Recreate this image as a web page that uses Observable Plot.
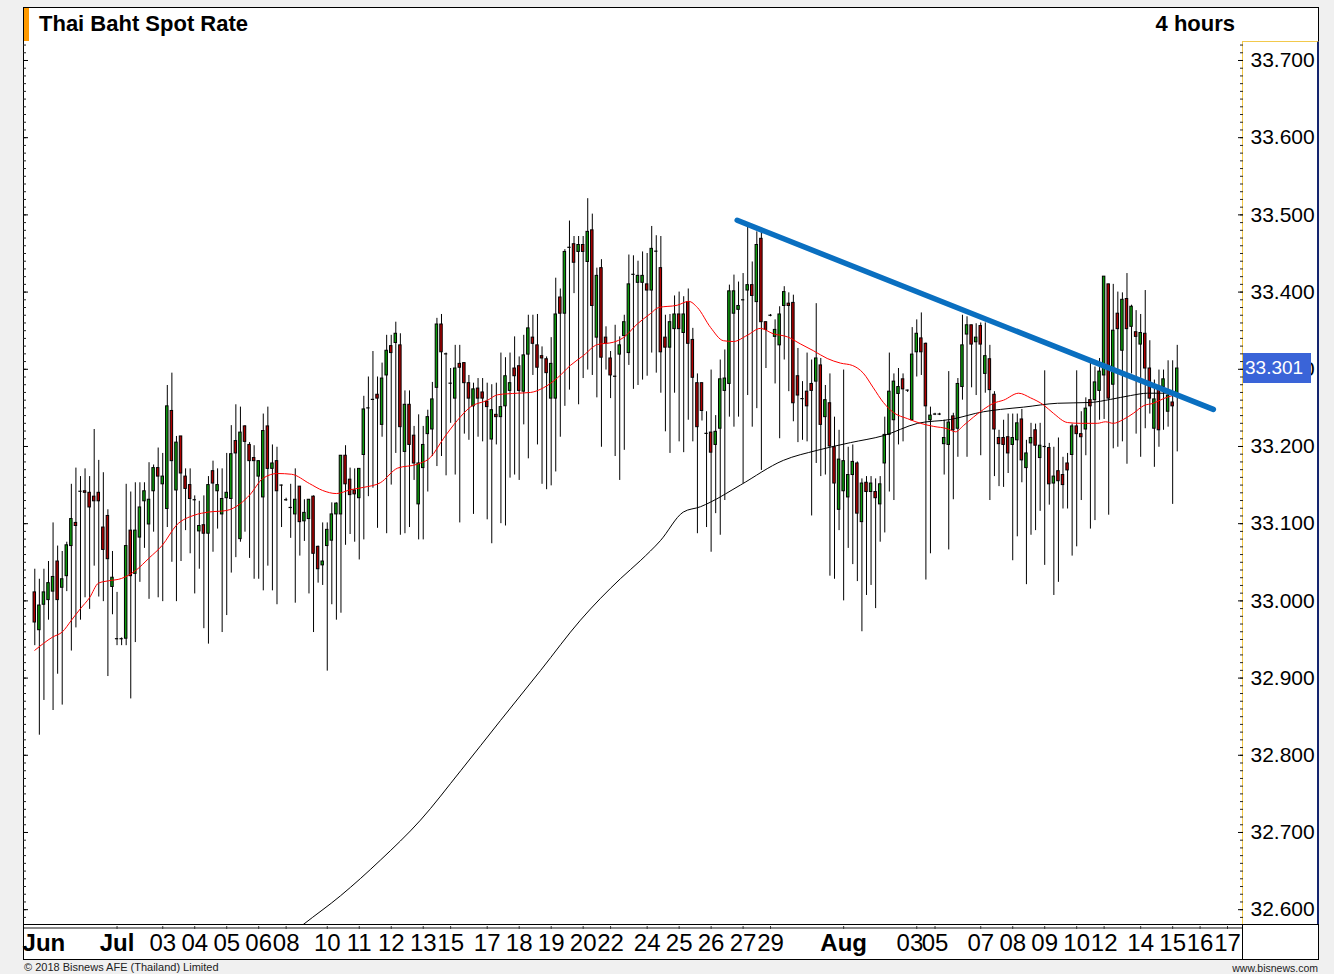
<!DOCTYPE html>
<html><head><meta charset="utf-8">
<script src="https://cdn.jsdelivr.net/npm/d3@7"></script>
<script src="https://cdn.jsdelivr.net/npm/@observablehq/plot@0.6"></script>
<style>
html,body{margin:0;padding:0;background:#f0f0f0;width:1334px;height:974px;overflow:hidden;font-family:"Liberation Sans",Arial,sans-serif;}
.abs{position:absolute;}
#frame{left:23px;top:7px;width:1296px;height:953px;box-sizing:border-box;border:1px solid #000;background:#fff;z-index:0;}
#orange{left:24px;top:8px;width:5px;height:33px;background:#ff9a00;z-index:1;}
#panel{left:1242px;top:41px;width:77px;height:884px;box-sizing:border-box;border-left:1px solid #f2c94c;border-top:1px solid #f2c94c;border-right:2px solid #14246e;z-index:1;}
#l1{left:23px;top:924px;width:1296px;height:1px;background:#000;z-index:1;}
#l2{left:24px;top:927px;width:1218px;height:2px;background:#8a8a8a;z-index:1;}
#l3{left:1242px;top:924px;width:1px;height:35px;background:#000;z-index:1;}
#chart{left:0;top:0;z-index:2;}
#title{left:39px;top:13px;font-size:22px;font-weight:bold;line-height:22px;color:#000;z-index:3;white-space:nowrap;}
#period{left:1120px;width:115px;text-align:right;top:13px;font-size:22px;font-weight:bold;line-height:22px;color:#000;z-index:3;}
#price{left:1243px;width:68px;height:30px;background:#3a64d8;color:#fff;font-size:19px;line-height:30px;padding-left:2px;box-sizing:border-box;z-index:3;}
#copy{left:24px;top:961px;font-size:11px;line-height:12px;color:#222;z-index:3;white-space:nowrap;}
#www{left:1200px;width:118px;text-align:right;top:962px;font-size:10.5px;line-height:12px;color:#222;z-index:3;}
</style></head><body>
<div id="frame" class="abs"></div>
<div id="orange" class="abs"></div>
<div id="panel" class="abs"></div>
<div id="l1" class="abs"></div>
<div id="l2" class="abs"></div>
<div id="l3" class="abs"></div>
<div id="chart" class="abs"></div>
<div id="title" class="abs">Thai Baht Spot Rate</div>
<div id="period" class="abs">4 hours</div>
<div id="price" class="abs"></div>
<div id="copy" class="abs">© 2018 Bisnews AFE (Thailand) Limited</div>
<div id="www" class="abs">www.bisnews.com</div>
<script>
// ---- Candle data (4-hour bars) ----
const open = [
33.011,32.962,32.995,33.001,33.012,33.051,33.017,33.032,33.071,33.101,
33.142,33.142,33.140,33.135,33.140,33.095,33.110,33.018,32.951,32.951,
32.951,33.091,33.035,33.082,33.129,33.099,33.142,33.172,33.151,33.119,
33.246,33.143,33.213,33.161,33.150,33.131,33.090,33.098,33.087,33.168,
33.142,33.112,33.133,33.132,33.207,33.080,33.226,33.202,33.185,33.161,
33.134,33.226,33.171,33.181,33.150,33.131,33.121,33.112,33.148,33.103,
33.106,33.135,33.070,33.046,33.071,33.078,33.112,33.112,33.188,33.157,
33.143,33.133,33.189,33.250,33.261,33.267,33.228,33.292,33.330,33.334,
33.331,33.193,33.254,33.214,33.125,33.172,33.216,33.222,33.276,33.358,
33.320,33.282,33.262,33.307,33.308,33.282,33.252,33.275,33.270,33.258,
33.209,33.241,33.238,33.252,33.272,33.301,33.304,33.271,33.319,33.341,
33.331,33.317,33.313,33.262,33.262,33.393,33.372,33.458,33.462,33.452,
33.461,33.439,33.480,33.341,33.431,33.341,33.314,33.291,33.319,33.343,
33.321,33.423,33.412,33.412,33.410,33.402,33.453,33.431,33.341,33.328,
33.352,33.371,33.347,33.387,33.338,33.282,33.282,33.217,33.218,33.202,
33.223,33.272,33.281,33.372,33.377,33.390,33.402,33.409,33.387,33.469,
33.361,33.370,33.342,33.331,33.382,33.385,33.386,33.291,33.262,33.271,
33.281,33.284,33.305,33.238,33.256,33.199,33.118,33.142,33.134,33.163,
33.178,33.102,33.153,33.141,33.141,33.125,33.178,33.215,33.234,33.268,
33.287,33.273,33.234,33.322,33.340,33.333,33.234,33.242,33.242,33.203,
33.202,33.239,33.223,33.277,33.345,33.357,33.335,33.356,33.294,33.313,
33.267,33.211,33.211,33.212,33.202,33.208,33.235,33.172,33.204,33.221,
33.185,33.200,33.198,33.152,33.168,33.163,33.178,33.189,33.226,33.216,
33.222,33.260,33.260,33.272,33.292,33.410,33.280,33.372,33.324,33.391,
33.355,33.348,33.332,33.346,33.301,33.223,33.278,33.277,33.245,33.257,
33.268];
const high = [
33.041,33.028,33.041,33.051,33.101,33.071,33.064,33.076,33.151,33.172,
33.161,33.171,33.161,33.222,33.182,33.166,33.118,33.064,33.011,32.952,
33.151,33.141,33.153,33.153,33.153,33.179,33.176,33.198,33.191,33.279,
33.295,33.213,33.213,33.171,33.171,33.136,33.129,33.136,33.161,33.181,
33.171,33.171,33.191,33.227,33.254,33.251,33.227,33.205,33.201,33.181,
33.242,33.251,33.202,33.199,33.150,33.133,33.151,33.171,33.148,33.131,
33.131,33.136,33.071,33.101,33.101,33.127,33.127,33.188,33.201,33.172,
33.171,33.171,33.265,33.290,33.323,33.290,33.308,33.344,33.344,33.361,
33.346,33.272,33.272,33.226,33.241,33.226,33.247,33.283,33.366,33.371,
33.321,33.301,33.331,33.331,33.308,33.292,33.282,33.288,33.288,33.282,
33.280,33.282,33.321,33.315,33.321,33.342,33.316,33.344,33.370,33.370,
33.371,33.329,33.316,33.341,33.418,33.404,33.455,33.492,33.472,33.472,
33.472,33.521,33.501,33.431,33.442,33.355,33.323,33.357,33.342,33.370,
33.448,33.447,33.440,33.452,33.450,33.485,33.473,33.472,33.370,33.371,
33.395,33.400,33.394,33.404,33.353,33.294,33.282,33.245,33.299,33.240,
33.312,33.325,33.409,33.422,33.413,33.424,33.484,33.439,33.478,33.480,
33.361,33.371,33.364,33.381,33.407,33.399,33.396,33.327,33.284,33.321,
33.312,33.385,33.314,33.279,33.294,33.238,33.221,33.299,33.199,33.202,
33.180,33.158,33.161,33.161,33.158,33.161,33.238,33.321,33.294,33.301,
33.294,33.273,33.354,33.364,33.373,33.334,33.251,33.243,33.243,33.234,
33.297,33.243,33.288,33.370,33.368,33.357,33.359,33.360,33.360,33.331,
33.271,33.221,33.234,33.242,33.242,33.242,33.248,33.208,33.230,33.229,
33.230,33.298,33.204,33.199,33.211,33.186,33.191,33.229,33.298,33.245,
33.263,33.309,33.303,33.314,33.420,33.410,33.410,33.400,33.399,33.424,
33.383,33.376,33.371,33.402,33.337,33.286,33.299,33.299,33.311,33.311,
33.331];
const low = [
32.942,32.826,32.871,32.975,32.858,32.905,32.865,33.012,32.935,32.965,
32.975,33.004,32.989,33.045,33.005,32.999,32.902,32.982,32.942,32.942,
32.942,32.873,32.946,33.024,33.068,33.002,33.089,33.004,32.999,33.095,
33.050,32.999,33.051,33.091,33.061,33.009,33.041,32.964,32.944,33.063,
33.093,32.959,32.981,33.036,33.056,33.076,33.089,33.055,33.028,33.028,
33.013,33.045,33.013,32.995,33.095,33.129,33.081,32.997,33.058,33.077,
33.009,32.959,33.023,33.020,32.909,32.995,32.975,32.984,33.072,33.086,
33.076,33.053,33.079,33.135,33.146,33.094,33.212,33.087,33.150,33.191,
33.085,33.087,33.095,33.156,33.079,33.079,33.141,33.187,33.174,33.187,
33.162,33.230,33.163,33.101,33.216,33.208,33.112,33.212,33.206,33.105,
33.074,33.202,33.100,33.097,33.159,33.163,33.156,33.228,33.184,33.292,
33.202,33.151,33.144,33.149,33.167,33.212,33.252,33.273,33.398,33.254,
33.288,33.299,33.292,33.263,33.199,33.299,33.262,33.187,33.156,33.195,
33.305,33.274,33.279,33.286,33.291,33.321,33.295,33.269,33.219,33.191,
33.269,33.206,33.192,33.234,33.206,33.087,33.233,33.095,33.063,33.113,
33.085,33.130,33.238,33.225,33.238,33.152,33.266,33.225,33.249,33.169,
33.301,33.368,33.281,33.210,33.312,33.271,33.232,33.205,33.208,33.206,
33.110,33.178,33.161,33.163,33.032,33.028,33.091,33.000,33.068,33.047,
33.025,32.960,33.007,33.020,32.990,33.076,33.088,33.141,33.130,33.202,
33.206,33.270,33.233,33.290,33.292,33.027,33.061,33.240,33.240,33.163,
33.066,33.131,33.186,33.260,33.186,33.276,33.266,33.188,33.269,33.130,
33.161,33.148,33.147,33.165,33.052,33.083,33.153,33.021,33.085,33.091,
33.116,33.046,33.124,33.007,33.024,33.119,33.119,33.058,33.070,33.130,
33.188,33.093,33.104,33.234,33.235,33.111,33.197,33.199,33.206,33.177,
33.294,33.216,33.186,33.223,33.242,33.173,33.199,33.221,33.225,33.125,
33.193];
const close = [
32.972,32.994,33.011,33.023,33.031,33.001,33.028,33.072,33.106,33.097,
33.142,33.140,33.121,33.129,33.129,33.066,33.054,33.030,32.951,32.951,
33.071,33.032,33.091,33.121,33.142,33.131,33.172,33.161,33.161,33.252,
33.181,33.205,33.165,33.145,33.132,33.131,33.097,33.087,33.150,33.152,
33.150,33.132,33.140,33.190,33.191,33.218,33.206,33.181,33.181,33.181,
33.220,33.171,33.178,33.142,33.150,33.131,33.121,33.131,33.102,33.114,
33.131,33.061,33.041,33.051,33.092,33.112,33.126,33.188,33.151,33.137,
33.138,33.171,33.248,33.250,33.261,33.262,33.288,33.324,33.321,33.346,
33.225,33.254,33.202,33.178,33.178,33.202,33.238,33.261,33.358,33.322,
33.320,33.282,33.301,33.302,33.282,33.262,33.274,33.262,33.262,33.251,
33.247,33.238,33.251,33.291,33.282,33.291,33.272,33.318,33.353,33.333,
33.302,33.314,33.295,33.307,33.371,33.372,33.452,33.458,33.438,33.461,
33.452,33.478,33.382,33.421,33.315,33.333,33.292,33.291,33.331,33.361,
33.410,33.423,33.421,33.421,33.402,33.456,33.453,33.322,33.328,33.361,
33.371,33.352,33.371,33.333,33.289,33.225,33.246,33.217,33.192,33.219,
33.287,33.288,33.401,33.401,33.382,33.390,33.409,33.395,33.461,33.361,
33.351,33.370,33.351,33.371,33.400,33.382,33.256,33.266,33.262,33.252,
33.272,33.314,33.228,33.260,33.200,33.152,33.183,33.181,33.163,33.180,
33.113,33.152,33.141,33.152,33.133,33.151,33.215,33.271,33.284,33.277,
33.274,33.273,33.319,33.346,33.322,33.252,33.240,33.242,33.242,33.211,
33.231,33.221,33.281,33.331,33.357,33.332,33.341,33.332,33.317,33.273,
33.222,33.203,33.202,33.191,33.211,33.230,33.182,33.191,33.211,33.201,
33.201,33.200,33.151,33.161,33.155,33.150,33.169,33.226,33.216,33.212,
33.249,33.252,33.283,33.297,33.420,33.262,33.350,33.352,33.390,33.352,
33.381,33.342,33.347,33.301,33.262,33.261,33.221,33.287,33.266,33.252,
33.301];

// Red (short) moving average, sampled along the drawn line: bar index / value
const redIdx = [0,3.87,6.06,8.03,10,11.97,13.94,16.13,18.97,22,25.1,27.9,31,34.9,38,41.9,45,47,50,53.1,56.2,60.1,63,66,69.1,71.9,75.6,79.4,83.7,86.6,89.4,92.5,95.3,99.1,101.3,105.6,108.5,111.3,114.4,117.2,120.1,123.1,126.6,128.8,131.9,134.7,136.5,140.6,143.1,145,147.9,150.7,152.9,155.9,158.8,161.6,164.7,167.5,170.4,173.4,176.3,178.9,181.3,183.5,185.7,187.9,191,193.8,196.7,199.7,201.5,203.2,205.4,207.6,209.8,212,215.3,217.9,220.7,222.9,226,228.8,232.5,234.3,236,238.2,240.4,242.7,244.8,247,249,250];
const redVal = [32.936,32.953,32.960,32.975,32.990,33.004,33.023,33.026,33.029,33.039,33.056,33.072,33.098,33.111,33.115,33.117,33.126,33.137,33.159,33.165,33.164,33.152,33.143,33.139,33.144,33.147,33.153,33.172,33.177,33.186,33.210,33.234,33.251,33.260,33.267,33.269,33.270,33.276,33.289,33.305,33.318,33.332,33.335,33.341,33.359,33.372,33.380,33.383,33.388,33.380,33.354,33.337,33.336,33.344,33.353,33.346,33.342,33.333,33.324,33.314,33.308,33.305,33.295,33.276,33.257,33.244,33.236,33.230,33.226,33.223,33.219,33.227,33.238,33.248,33.256,33.260,33.269,33.263,33.254,33.243,33.231,33.230,33.230,33.232,33.230,33.235,33.243,33.253,33.256,33.262,33.266,33.267];

// Black (long) moving average
const blackIdx = [57.3,58.8,66.9,75.6,84.4,93.2,101.9,110.7,119.4,128.2,132.5,136.9,141.9,145.7,147.9,154.4,163.8,171.2,178.5,185.7,193.2,200.4,207.6,211.3,216.4,223.8,231,235.4,239.8,243.5,247,250];
const blackVal = [32.574,32.581,32.618,32.664,32.716,32.780,32.845,32.910,32.975,33.029,33.052,33.078,33.115,33.122,33.128,33.150,33.182,33.195,33.205,33.214,33.230,33.235,33.245,33.248,33.251,33.256,33.257,33.261,33.266,33.269,33.269,33.270];

// Hand-drawn trend line end points
const trendIdx = [153.7, 257.9];
const trendVal = [33.493, 33.248];

// Axis ticks
const yTicks = [32.6,32.7,32.8,32.9,33.0,33.1,33.2,33.3,33.4,33.5,33.6,33.7];
const dateIdx = [2,18,28,35,42,49,55,64,71,78,85,91,99,106,113,120,126,134,141,148,155,161,177,191.5,197,207,214,221,228,234,242,249,255,261];
const dateLabel = ["Jun","Jul","03","04","05","06","08","10","11","12","13","15","17","18","19","20","22","24","25","26","27","29","Aug","03","05","07","08","09","10","12","14","15","16","17"];
const monthLabels = ["Jun","Jul","Aug"];
const tickedDates = [18,28,35,42,49,55,64,71,78,85,91,99,106,113,120,126,134,141,148,155,161,177,193,197,207,214,221,228,234,242,249,255,261];

// ---- Build tables ----
const candles = open.map((o, k) => ({i: k, o, h: high[k], l: low[k], c: close[k]}));
const up = candles.filter(d => d.c - d.o >= 0.0005);
const down = candles.filter(d => d.o - d.c >= 0.0005);
const doji = candles.filter(d => Math.abs(d.c - d.o) < 0.0005);
const redMA = redIdx.map((i, k) => ({i, v: redVal[k]}));
const blackMA = blackIdx.map((i, k) => ({i, v: blackVal[k]}));
const trend = trendIdx.map((i, k) => ({i, v: trendVal[k]}));
const dates = dateIdx.map((i, k) => ({i, t: dateLabel[k]}));
const days = dates.filter(d => !monthLabels.includes(d.t));
const months = dates.filter(d => monthLabels.includes(d.t));
const minor = d3.range(3259, 3373).map(v => v / 100);

const bodyHalf = 0.27;

const plot = Plot.plot({
  width: 1334, height: 974,
  marginLeft: 23, marginRight: 91, marginTop: 42, marginBottom: 50,
  x: {type: "linear", domain: [-2.47, 264.5], axis: null},
  y: {type: "linear", domain: [32.5808, 33.7233], axis: null},
  style: {background: "transparent", overflow: "visible", fontFamily: "'Liberation Sans',Arial,sans-serif"},
  marks: [
    Plot.tickY(minor, {y: d => d, insetLeft: 1217, stroke: "#222"}),
    Plot.tickY(minor, {y: d => d, insetRight: 1217, stroke: "#222"}),
    Plot.tickY(yTicks, {y: d => d, insetLeft: 1215, stroke: "#000"}),
    Plot.tickY(yTicks, {y: d => d, insetRight: 1215, stroke: "#000"}),
    Plot.text(yTicks, {y: d => d, text: d => d3.format(".3f")(d), frameAnchor: "right", dx: 7, textAnchor: "start", fontSize: 21, fill: "#000"}),
    Plot.ruleX(candles, {x: "i", y1: "l", y2: "h", stroke: "#000", strokeWidth: 1}),
    Plot.rect(up, {x1: d => d.i - bodyHalf, x2: d => d.i + bodyHalf, y1: "o", y2: "c", fill: "#0c9a0c", stroke: "#000", strokeWidth: 1}),
    Plot.rect(down, {x1: d => d.i - bodyHalf, x2: d => d.i + bodyHalf, y1: "o", y2: "c", fill: "#b00000", stroke: "#000", strokeWidth: 1}),
    Plot.ruleY(doji, {y: "o", x1: d => d.i - 0.36, x2: d => d.i + 0.36, stroke: "#000", strokeWidth: 1.2}),
    Plot.line(blackMA, {x: "i", y: "v", stroke: "#000", strokeWidth: 1, clip: true, curve: "monotone-x"}),
    Plot.line(redMA, {x: "i", y: "v", stroke: "#ff0000", strokeWidth: 1, curve: "monotone-x"}),
    Plot.line(trend, {x: "i", y: "v", stroke: "#0a6fc0", strokeWidth: 5.5}),
    Plot.tickX(tickedDates, {x: d => d, insetTop: 879, dy: 5, stroke: "#333"}),
    Plot.text(days, {x: "i", text: "t", frameAnchor: "bottom", lineAnchor: "middle", dy: 18.5, fontSize: 24, fill: "#000", ariaLabel: "date-label"}),
    Plot.text(months, {x: "i", text: "t", frameAnchor: "bottom", lineAnchor: "middle", dy: 18.5, fontSize: 24, fontWeight: "bold", fill: "#000", ariaLabel: "date-label"})
  ]
});
document.getElementById("chart").appendChild(plot);

// Condense the date labels (the original uses a narrow face)
d3.select(plot).selectAll('g[aria-label="date-label"] text').each(function() {
  const w = this.getComputedTextLength();
  this.setAttribute("textLength", (w * 0.8).toFixed(1));
  this.setAttribute("lengthAdjust", "spacingAndGlyphs");
});

// Current price marker on the right axis
const last = close[close.length - 1];
const py = plot.scale("y").apply(last);
const price = document.getElementById("price");
price.textContent = d3.format(".3f")(last);
price.style.top = (py - 15) + "px";
</script>
</body></html>
